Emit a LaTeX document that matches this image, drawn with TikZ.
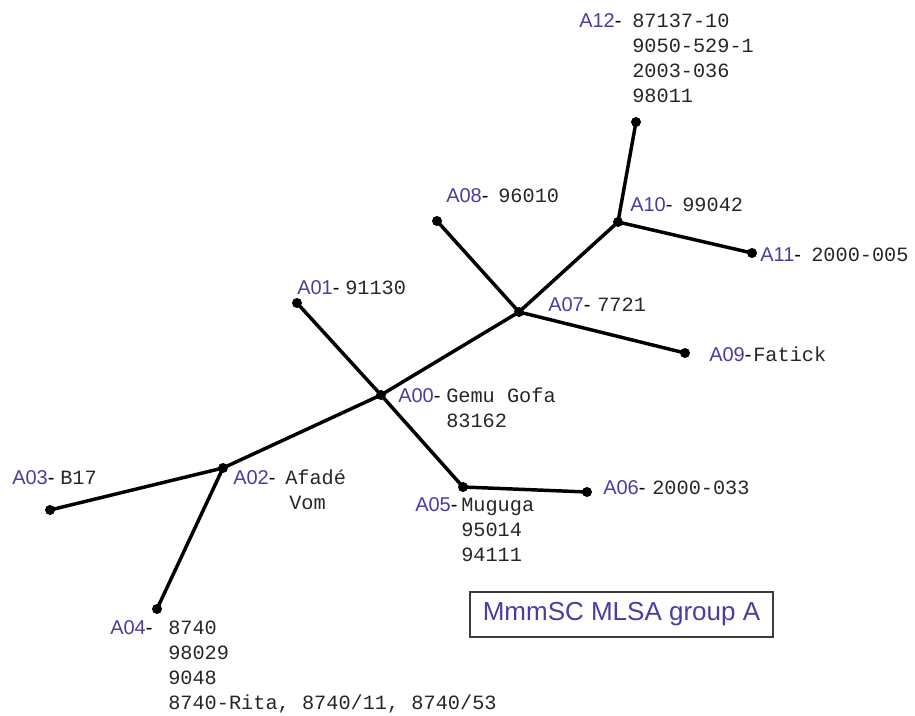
\documentclass[tikz,border=0pt]{standalone}
\usepackage{fontspec}
\setmainfont{Liberation Sans}
\newfontfamily\monof{Liberation Mono}
\definecolor{lblue}{RGB}{72,62,160}
\definecolor{boxgray}{RGB}{60,60,60}
\newcommand{\mlines}[1]{\begin{tabular}[t]{@{}l@{}}#1\end{tabular}}
\begin{document}
\begin{tikzpicture}[x=0.75pt,y=-0.75pt,
  edge/.style={line width=2.6pt},
  tipdot/.style={circle,fill=black,inner sep=0pt,minimum size=7.5pt},
  tag/.style={anchor=base west,inner sep=0pt,font=\fontsize{15}{18}\selectfont},
  mono/.style={anchor=base west,inner sep=0pt,font=\monof\fontsize{15.2}{18.75}\selectfont,text=black!85},
  titlebox/.style={draw=boxgray,line width=1.1pt,inner sep=0pt,minimum width=227pt,minimum height=33.5pt,text=lblue,font=\fontsize{19.5}{22}\selectfont}
]
\useasboundingbox (0,0) rectangle (915,716);
% tree points
\coordinate (n00) at (381,395);
\coordinate (n01) at (297,303);
\coordinate (n02) at (223,468);
\coordinate (n03) at (50,510);
\coordinate (n04) at (157,609);
\coordinate (n05) at (463,487);
\coordinate (n06) at (587,492);
\coordinate (n07) at (519,312);
\coordinate (n08) at (437,221);
\coordinate (n09) at (685,353);
\coordinate (n10) at (618,222);
\coordinate (n11) at (752,253);
\coordinate (n12) at (636,122);
% edges
\draw[edge] (n00) -- (n01);
\draw[edge] (n00) -- (n02);
\draw[edge] (n00) -- (n05);
\draw[edge] (n00) -- (n07);
\draw[edge] (n02) -- (n03);
\draw[edge] (n02) -- (n04);
\draw[edge] (n05) -- (n06);
\draw[edge] (n07) -- (n08);
\draw[edge] (n07) -- (n09);
\draw[edge] (n07) -- (n10);
\draw[edge] (n10) -- (n11);
\draw[edge] (n10) -- (n12);
% dots
\foreach \p in {n00,n01,n02,n03,n04,n05,n06,n07,n08,n09,n10,n11,n12}
  \node[tipdot] (d\p) at (\p) {};
% labels
\node[tag] (t12) at (579,27.7) {\textcolor{lblue}{A12}-};
\node[mono] (m12) at (632,27.7) {\mlines{87137-10\\9050-529-1\\2003-036\\98011}};
\node[tag] (t10) at (630,211.7) {\textcolor{lblue}{A10}-};
\node[mono] (m10) at (682,211.7) {99042};
\node[tag] (t11) at (760,262) {\textcolor{lblue}{A11}-};
\node[mono] (m11) at (811,262) {2000-005};
\node[tag] (t08) at (446,203) {\textcolor{lblue}{A08}-};
\node[mono] (m08) at (498,203) {96010};
\node[tag] (t01) at (297,295) {\textcolor{lblue}{A01}-};
\node[mono] (m01) at (345,295) {91130};
\node[tag] (t07) at (548,312) {\textcolor{lblue}{A07}-};
\node[mono] (m07) at (597,312) {7721};
\node[tag] (t09) at (709,362) {\textcolor{lblue}{A09}-};
\node[mono] (m09) at (753,362) {Fatick};
\node[tag] (t00) at (398,403) {\textcolor{lblue}{A00}-};
\node[mono] (m00) at (446,403) {\mlines{Gemu Gofa\\83162}};
\node[tag] (t03) at (12,485) {\textcolor{lblue}{A03}-};
\node[mono] (m03) at (60,485) {B17};
\node[tag] (t02) at (233,485) {\textcolor{lblue}{A02}-};
\node[mono] (m02) at (285,485) {\mlines{Afadé\\\hspace*{3pt}Vom}};
\node[tag] (t05) at (415,512) {\textcolor{lblue}{A05}-};
\node[mono] (m05) at (461,512) {\mlines{Muguga\\95014\\94111}};
\node[tag] (t06) at (603,495) {\textcolor{lblue}{A06}-};
\node[mono] (m06) at (652,495) {2000-033};
\node[tag] (t04) at (110,635) {\textcolor{lblue}{A04}-};
\node[mono] (m04) at (168,635) {\mlines{8740\\98029\\9048\\8740-Rita, 8740/11, 8740/53}};
% title box
\node[titlebox] (title) at (621.5,614.5) {MmmSC MLSA group A};
\end{tikzpicture}
\end{document}
